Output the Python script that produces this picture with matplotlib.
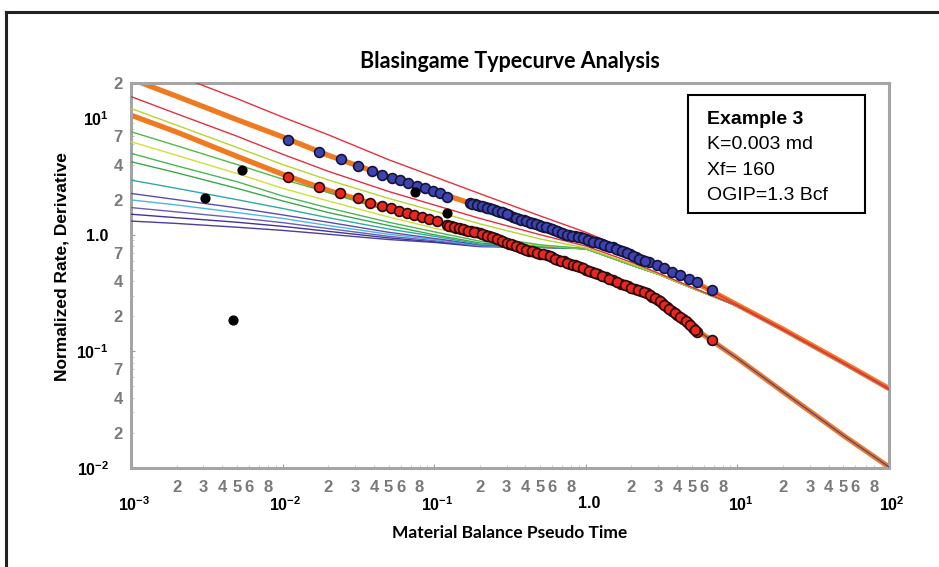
import numpy as np
import matplotlib
matplotlib.use('Agg')
import matplotlib.pyplot as plt
from matplotlib.ticker import FixedLocator, FuncFormatter
from matplotlib.patches import Rectangle
import matplotlib.transforms as mtransforms

plt.rcParams['font.family'] = ['Liberation Sans', 'DejaVu Sans']
plt.rcParams['mathtext.fontset'] = 'custom'
plt.rcParams['mathtext.rm'] = 'Liberation Sans:bold'
plt.rcParams['mathtext.default'] = 'rm'

# ---- type curves ----
tc_x = [0.001, 0.002, 0.005, 0.01, 0.02, 0.05, 0.1, 0.2, 0.5, 1, 2, 3, 5, 10, 20, 50, 100]

rate_stem = [21.7, 15.4, 9.7, 6.9, 4.8, 3.15, 2.36, 1.75, 1.22, 0.93, 0.67, 0.53, 0.405, 0.25, 0.155, 0.08, 0.048]
deriv_stem = [10.6, 7.6, 4.7, 3.3, 2.4, 1.68, 1.33, 1.03, 0.69, 0.50, 0.35, 0.26, 0.163, 0.087, 0.045, 0.019, 0.0102]

tc_red1 = [33, 23.3, 14.7, 10.2, 7.2, 4.4, 3.15, 2.25, 1.45, 1.05, 0.72, 0.55, 0.405, 0.25, 0.155, 0.08, 0.048]
tc_red2 = [15.3, 10.9, 7.0, 4.9, 3.5, 2.35, 1.8, 1.38, 1.0, 0.80, 0.58, 0.47, 0.355, 0.245, 0.152, 0.079, 0.047]
tc_ygreen = [12.1, 8.7, 5.6, 4.0, 2.95, 2.05, 1.6, 1.24, 0.92, 0.77, 0.56, 0.46, 0.35, 0.245, 0.152, 0.079, 0.047]
tc_green1 = [7.65, 5.8, 4.0, 3.0, 2.3, 1.6, 1.25, 0.98, 0.82, 0.76, 0.55, 0.46, 0.35, 0.245, 0.152, 0.079, 0.047]
tc_yellow = [6.28, 4.8, 3.35, 2.5, 1.95, 1.42, 1.14, 0.93, 0.81, 0.76, 0.55, 0.46, 0.35, 0.245, 0.152, 0.079, 0.047]
tc_green2 = [4.99, 3.9, 2.85, 2.15, 1.7, 1.28, 1.06, 0.88, 0.80, 0.76, 0.55, 0.46, 0.35, 0.245, 0.152, 0.079, 0.047]
tc_green3 = [4.23, 3.4, 2.5, 1.95, 1.55, 1.2, 1.0, 0.85, 0.79, 0.76, 0.55, 0.46, 0.35, 0.245, 0.152, 0.079, 0.047]
tc_teal = [2.94, 2.5, 2.0, 1.68, 1.4, 1.12, 0.97, 0.83, 0.79, 0.76, 0.55, 0.46, 0.35, 0.245, 0.152, 0.079, 0.047]
tc_purple1 = [2.26, 2.0, 1.7, 1.48, 1.28, 1.05, 0.93, 0.82, 0.79, 0.76, 0.55, 0.46, 0.35, 0.245, 0.152, 0.079, 0.047]
tc_cyan = [1.99, 1.8, 1.55, 1.38, 1.2, 1.01, 0.91, 0.81, 0.785, 0.76, 0.55, 0.46, 0.35, 0.245, 0.152, 0.079, 0.047]
tc_purple2 = [1.71, 1.57, 1.40, 1.27, 1.13, 0.97, 0.89, 0.80, 0.78, 0.76, 0.55, 0.46, 0.35, 0.245, 0.152, 0.079, 0.047]
tc_purple3 = [1.50, 1.40, 1.28, 1.18, 1.07, 0.94, 0.87, 0.80, 0.78, 0.76, 0.55, 0.46, 0.35, 0.245, 0.152, 0.079, 0.047]
tc_purple4 = [1.31, 1.25, 1.16, 1.09, 1.01, 0.91, 0.86, 0.79, 0.78, 0.76, 0.55, 0.46, 0.35, 0.245, 0.152, 0.079, 0.047]

late_x = [0.5, 1, 2, 3, 5, 10, 20, 50, 100]
late_deriv = [0.69, 0.50, 0.35, 0.26, 0.163, 0.087, 0.045, 0.019, 0.0102]

# ---- field data ----
rate_x = [0.01086, 0.01738, 0.02427, 0.0314, 0.0387, 0.0453, 0.0525, 0.0594, 0.0671, 0.0767,
          0.0869, 0.0982, 0.109, 0.121,
          0.172, 0.185, 0.20, 0.215, 0.23, 0.25, 0.27, 0.29, 0.31, 0.33, 0.36, 0.39, 0.42, 0.45,
          0.49, 0.53, 0.57, 0.62, 0.67, 0.72, 0.78, 0.85, 0.92, 1.0, 1.08, 1.17, 1.27, 1.38,
          1.51, 1.65, 1.8, 1.97, 2.15, 2.35, 2.6, 2.95, 3.3, 3.7, 4.18, 4.8, 5.42, 6.8,
          0.178, 0.192, 0.207, 0.222, 0.24, 0.26, 0.28, 0.30, 0.345, 0.375, 0.405, 0.435,
          0.47, 0.51, 0.55, 0.595, 0.645, 0.695, 0.75, 0.815, 0.885, 0.96, 1.04, 1.12, 1.22,
          1.32, 1.44, 1.58, 1.72, 1.88, 2.05, 2.25, 2.47]
rate_y = [6.49, 5.12, 4.43, 3.88, 3.52, 3.25, 3.08, 2.94, 2.79, 2.63,
          2.50, 2.38, 2.28, 2.10,
          1.87, 1.82, 1.77, 1.72, 1.68, 1.63, 1.58, 1.54, 1.47, 1.42, 1.37, 1.33, 1.28, 1.25,
          1.21, 1.17, 1.14, 1.10, 1.06, 1.02, 0.99, 0.97, 0.95, 0.92, 0.89, 0.86, 0.83, 0.80,
          0.78, 0.74, 0.71, 0.68, 0.64, 0.61, 0.58, 0.55, 0.52, 0.48, 0.45, 0.42, 0.39, 0.336,
          1.85, 1.80, 1.75, 1.70, 1.66, 1.60, 1.56, 1.50, 1.40, 1.35, 1.30, 1.27,
          1.23, 1.19, 1.16, 1.12, 1.08, 1.04, 1.00, 0.98, 0.96, 0.935, 0.905, 0.875, 0.845,
          0.815, 0.79, 0.76, 0.725, 0.695, 0.66, 0.625, 0.595]

deriv_x = [0.01086, 0.01746, 0.0239, 0.0313, 0.0377, 0.0451, 0.0517, 0.0589, 0.0659, 0.0737,
           0.0828, 0.0929, 0.1037, 0.121, 0.13, 0.14, 0.15, 0.16, 0.175, 0.19, 0.2, 0.215,
           0.23, 0.25, 0.27, 0.29, 0.31, 0.33, 0.36, 0.39, 0.42, 0.46, 0.5, 0.555, 0.6, 0.66,
           0.72, 0.79, 0.85, 0.916, 1.0, 1.1, 1.2, 1.35, 1.51, 1.7, 1.9, 2.1, 2.3, 2.53, 2.75,
           2.99, 3.2, 3.43, 3.7, 4.0, 4.35, 4.73, 5.1, 5.42, 6.8,
           0.125, 0.135, 0.145, 0.155, 0.167, 0.182, 0.207, 0.222, 0.24, 0.26, 0.28, 0.30,
           0.32, 0.345, 0.375, 0.405, 0.44, 0.48, 0.525, 0.58, 0.63, 0.69, 0.755, 0.82, 0.88,
           0.96, 1.05, 1.15, 1.27, 1.43, 1.6, 1.8, 2.0, 2.2, 2.42, 2.64, 2.87, 3.1, 3.3, 3.55,
           3.85, 4.17, 4.55, 4.9, 5.25]
deriv_y = [3.14, 2.55, 2.26, 2.05, 1.86, 1.76, 1.68, 1.60, 1.53, 1.48,
           1.43, 1.36, 1.32, 1.21, 1.18, 1.15, 1.12, 1.10, 1.07, 1.05, 1.035, 1.0,
           0.97, 0.94, 0.90, 0.87, 0.84, 0.816, 0.78, 0.76, 0.73, 0.71, 0.69, 0.67, 0.64, 0.61,
           0.59, 0.56, 0.545, 0.528, 0.50, 0.48, 0.46, 0.43, 0.409, 0.38, 0.36, 0.34, 0.33, 0.316, 0.295,
           0.275, 0.26, 0.24, 0.22, 0.205, 0.19, 0.175, 0.16, 0.147, 0.125,
           1.20, 1.165, 1.135, 1.11, 1.085, 1.06, 1.015, 0.985, 0.955, 0.92, 0.885, 0.855,
           0.83, 0.80, 0.77, 0.745, 0.72, 0.70, 0.68, 0.655, 0.625, 0.60, 0.575, 0.552, 0.537,
           0.515, 0.49, 0.47, 0.445, 0.42, 0.395, 0.37, 0.35, 0.335, 0.322, 0.305, 0.285, 0.268, 0.25, 0.23,
           0.212, 0.197, 0.182, 0.168, 0.153]

outlier_x = [0.00308, 0.00542, 0.00473, 0.0746, 0.121]
outlier_y = [2.08, 3.59, 0.185, 2.34, 1.53]

thin_curves = [
    (tc_purple4, '#4a3f9c'), (tc_purple3, '#3e3596'), (tc_purple2, '#6a5cb8'),
    (tc_cyan, '#4fb6e2'), (tc_purple1, '#5a4ea8'), (tc_teal, '#2eaaa6'),
    (tc_green3, '#3aa84a'), (tc_green2, '#4cb45a'), (tc_yellow, '#cfe03a'),
    (tc_green1, '#52b84a'), (tc_ygreen, '#b6d62e'), (tc_red2, '#e23040'),
    (tc_red1, '#e8303c'),
]

fig = plt.figure(figsize=(9.39, 5.67), dpi=100)
ax = fig.add_axes([0.1395, 0.1746, 0.8073, 0.679])

ax.plot(tc_x, rate_stem, color='#f07a22', lw=3.8, zorder=2, solid_capstyle='butt')
ax.plot(tc_x, deriv_stem, color='#f07a22', lw=3.8, zorder=2, solid_capstyle='butt')
for ys, c in thin_curves:
    ax.plot(tc_x, ys, color=c, lw=1.0, zorder=3)
ax.plot(late_x, late_deriv, color='#4a3f9c', lw=0.9, zorder=3)

ax.scatter(rate_x, rate_y, s=50, c='#3d44b0', edgecolors='#14143a', linewidths=1.2, zorder=5)
ax.scatter(deriv_x, deriv_y, s=50, c='#e8281e', edgecolors='#2a0a0a', linewidths=1.2, zorder=5)
ax.scatter(outlier_x, outlier_y, s=40, c='black', edgecolors='black', zorder=6)

ax.set_xscale('log')
ax.set_yscale('log')
ax.set_xlim(1e-3, 100)
ax.set_ylim(0.01, 20)

# ticks
x_major = [1e-3, 1e-2, 1e-1, 1, 10, 100]
x_major_lbl = ['10$^{-3}$', '10$^{-2}$', '10$^{-1}$', '1.0', '10$^{1}$', '10$^{2}$']
y_major = [0.01, 0.1, 1, 10]
y_major_lbl = ['10$^{-2}$', '10$^{-1}$', '1.0', '10$^{1}$']
x_minor_show = [2, 3, 4, 5, 6, 8]
y_minor_show = [2, 4, 7]

ax.set_xticks(x_major)
ax.set_xticklabels(x_major_lbl)
ax.set_yticks(y_major)
ax.set_yticklabels(y_major_lbl)

x_minor = [m * 10.0 ** e for e in range(-3, 2) for m in range(2, 10)]
y_minor = [m * 10.0 ** e for e in range(-2, 1) for m in range(2, 10)] + [20]


def minor_fmt(show):
    def f(v, pos):
        e = np.floor(np.log10(v) + 1e-9)
        m = int(round(v / 10 ** e))
        return str(m) if m in show else ''
    return FuncFormatter(f)


ax.xaxis.set_minor_locator(FixedLocator(x_minor))
ax.yaxis.set_minor_locator(FixedLocator(y_minor))
ax.xaxis.set_minor_formatter(minor_fmt(x_minor_show))
ax.yaxis.set_minor_formatter(minor_fmt(y_minor_show))

ax.tick_params(which='major', direction='in', length=3, color='#999999',
               labelsize=11.5, labelcolor='black')
ax.tick_params(axis='x', which='major', pad=20)
ax.tick_params(axis='y', which='major', pad=16)
ax.tick_params(which='minor', direction='in', length=2, color='#bbbbbb',
               labelsize=12, labelcolor='#7a7a7a')
ax.tick_params(axis='x', which='minor', pad=8.5)
ax.tick_params(axis='y', which='minor', pad=6)
shift = mtransforms.ScaledTranslation(3 / 100, 0, fig.dpi_scale_trans)
for lbl in ax.get_xticklabels():
    lbl.set_transform(lbl.get_transform() + shift)
for lbl in ax.get_xticklabels(minor=True) + ax.get_yticklabels(minor=True):
    lbl.set_fontweight('bold')
for lbl in ax.get_xticklabels() + ax.get_yticklabels():
    lbl.set_fontweight('bold')

for sp in ax.spines.values():
    sp.set_color('#a5a5a5')
    sp.set_linewidth(2.2)

# info box
ax.add_patch(Rectangle((0.735, 0.662), 0.233, 0.307, transform=ax.transAxes,
                       fill=True, facecolor='white', edgecolor='black', lw=1.5, zorder=7))
ax.text(0.7595, 0.904, 'Example 3', transform=ax.transAxes, fontsize=14,
        fontweight='bold', va='center', zorder=8)
ax.text(0.7595, 0.839, 'K=0.003 md', transform=ax.transAxes, fontsize=14, va='center', zorder=8)
ax.text(0.7595, 0.774, 'Xf= 160', transform=ax.transAxes, fontsize=14, va='center', zorder=8)
ax.text(0.7595, 0.709, 'OGIP=1.3 Bcf', transform=ax.transAxes, fontsize=14, va='center', zorder=8)

fig.text(0.543, 0.891, 'Blasingame Typecurve Analysis', ha='center', va='center',
         fontsize=15.5, fontweight='bold', family=['Lato', 'DejaVu Sans'])
fig.text(0.543, 0.06, 'Material Balance Pseudo Time', ha='center', va='center',
         fontsize=12.5, fontweight='bold', family=['Lato', 'DejaVu Sans'])
fig.text(0.066, 0.53, 'Normalized Rate, Derivative', ha='center', va='center',
         rotation=90, fontsize=12.5, fontweight='bold')

# outer frame
fig.add_artist(plt.Line2D([0.006, 0.006], [0.0, 0.979], color='#222222', lw=2.2))
fig.add_artist(plt.Line2D([0.006, 1.0], [0.979, 0.979], color='#222222', lw=2.2))

fig.savefig('out.png', dpi=100)
